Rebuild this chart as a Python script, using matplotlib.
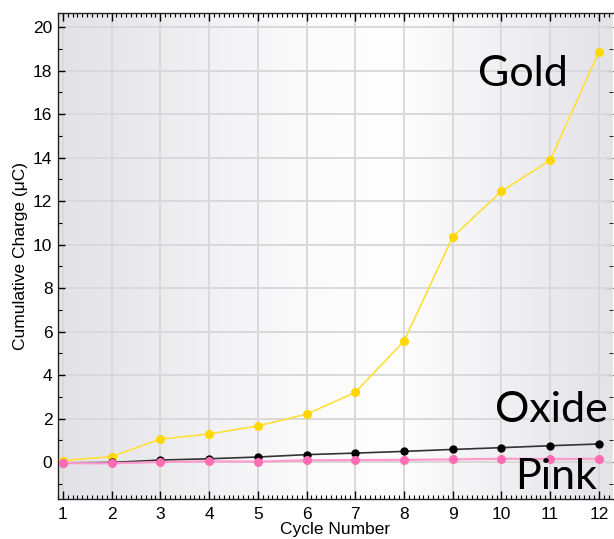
import matplotlib
matplotlib.use("Agg")
import matplotlib.pyplot as plt
import numpy as np
from matplotlib.ticker import MultipleLocator
from matplotlib.colors import LinearSegmentedColormap

cycles = [1, 2, 3, 4, 5, 6, 7, 8, 9, 10, 11, 12]
gold = [0.07, 0.25, 1.05, 1.29, 1.66, 2.2, 3.2, 5.56, 10.35, 12.45, 13.88, 18.85]
oxide = [-0.04, -0.02, 0.09, 0.15, 0.23, 0.34, 0.41, 0.49, 0.58, 0.66, 0.75, 0.83]
pink = [-0.05, -0.06, 0.0, 0.03, 0.02, 0.08, 0.09, 0.1, 0.12, 0.15, 0.14, 0.15]

plt.rcParams['font.family'] = ['Liberation Sans', 'DejaVu Sans']

fig = plt.figure(figsize=(6.14, 5.39), dpi=100)
ax = fig.add_axes([58/614, 40/539, 555/614, 486/539])

xlim = (0.9, 12.29)
ylim = (-1.7, 20.65)
ax.set_xlim(*xlim)
ax.set_ylim(*ylim)

cmap = LinearSegmentedColormap.from_list(
    'bg', [(0.0, '#e2e2e7'), (0.45, '#fbfbfc'), (0.6, '#fefefe'), (1.0, '#e3e3e8')])
grad = np.linspace(0, 1, 256).reshape(1, -1)
ax.imshow(grad, cmap=cmap, aspect='auto', extent=[xlim[0], xlim[1], ylim[0], ylim[1]],
          zorder=0, interpolation='bicubic')

ax.grid(True, color='#d9d9d9', linewidth=1.4, zorder=1)
ax.set_axisbelow(True)

ax.plot(cycles, gold, color='#ffdf3a', linewidth=1.2, marker='o', markersize=5.5,
        markerfacecolor='#ffd700', markeredgecolor='#ffd700', zorder=3)
ax.plot(cycles, oxide, color='#333333', linewidth=1.2, marker='o', markersize=5,
        markerfacecolor='black', markeredgecolor='black', zorder=3)
ax.plot(cycles, pink, color='#ff9acd', linewidth=1.6, marker='o', markersize=5.5,
        markerfacecolor='#ff6eb4', markeredgecolor='#ff6eb4', zorder=4)

ax.xaxis.set_major_locator(MultipleLocator(1))
ax.xaxis.set_minor_locator(MultipleLocator(0.1))
ax.yaxis.set_major_locator(MultipleLocator(2))
ax.yaxis.set_minor_locator(MultipleLocator(1))
ax.tick_params(axis='x', which='both', direction='in', top=True, bottom=True, pad=6,
               labelsize=12.5)
ax.tick_params(axis='x', which='major', length=6, width=1)
ax.tick_params(axis='x', which='minor', length=3, width=0.8)
ax.tick_params(axis='y', which='both', direction='in', left=True, right=False, pad=4,
               labelsize=12.5)
ax.tick_params(axis='y', which='major', length=5, width=1)
ax.tick_params(axis='y', which='minor', length=3, width=0.8)

ax2 = ax.secondary_yaxis('right')
ax2.yaxis.set_major_locator(MultipleLocator(2))
ax2.yaxis.set_minor_locator(MultipleLocator(1))
ax2.tick_params(which='both', direction='in', labelright=False)
ax2.tick_params(which='major', length=5)
ax2.tick_params(which='minor', length=3)
ax2.spines['right'].set_visible(False)

for s in ax.spines.values():
    s.set_color('#222222')
    s.set_linewidth(1.0)
ax.spines['right'].set_visible(False)

ax.set_xlabel('Cycle Number', fontsize=12.5, labelpad=0)
ax.set_ylabel('Cumulative Charge (\u03bcC)', fontsize=12.5, labelpad=4)

big = dict(fontsize=31, family=['Lato', 'DejaVu Sans'], color='black', zorder=5)
fig.text(523/614, 1 - 74/539, 'Gold', ha='center', va='center', **big)
fig.text(551/614, 1 - 410/539, 'Oxide', ha='center', va='center', **big)
fig.text(556/614, 1 - 477/539, 'Pink', ha='center', va='center', **big)

fig.savefig('out.png', dpi=100)
